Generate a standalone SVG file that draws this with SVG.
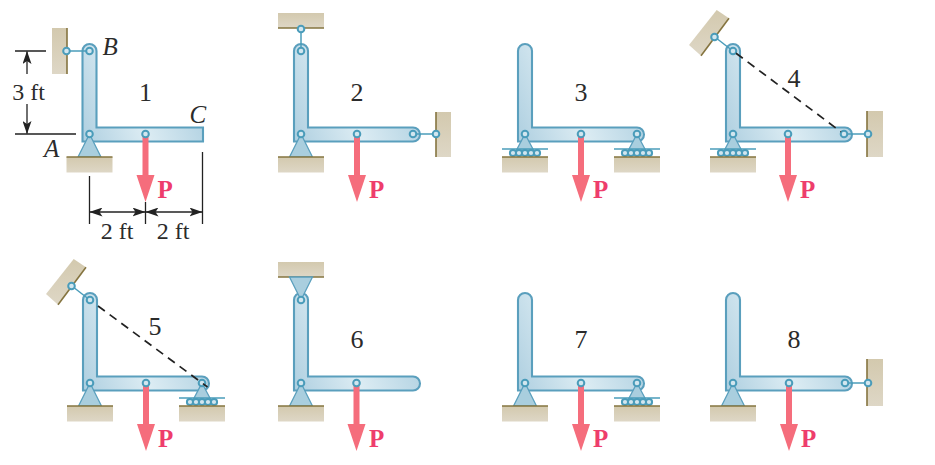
<svg xmlns="http://www.w3.org/2000/svg" width="935" height="465" viewBox="0 0 935 465">
<style>
text{font-family:"Liberation Serif","Times New Roman",serif;fill:#2b2b2b}
.n{font-size:26px;text-anchor:middle}
.d{font-size:24px;text-anchor:middle}
.i{font-size:25px;font-style:italic}
.p{font-size:25px;font-weight:bold;fill:#ee3d6c}
.bar{fill:url(#bg);stroke:#5a9fbd;stroke-width:2.1}
.tri{fill:#a9cede;stroke:#5a9fbd;stroke-width:1.3}
.pin{fill:#d2e6ef;stroke:#4a9cba;stroke-width:2}
.lnk{fill:none;stroke:#4a9cba;stroke-width:1.5}
.wall{fill:url(#wg)}
.edge{fill:none;stroke:#85743f;stroke-width:1.6}
.dash{fill:none;stroke:#222;stroke-width:1.7;stroke-dasharray:8.500 6}
.dim{fill:none;stroke:#222;stroke-width:1.3}
.dima{fill:none;stroke:#222;stroke-width:1.3;marker-start:url(#ah);marker-end:url(#ah)}
.dim1{fill:none;stroke:#222;stroke-width:1.3;marker-end:url(#ah)}
</style>
<defs>
<linearGradient id="bg" x1="0" y1="1" x2="1" y2="0.7"><stop offset="0" stop-color="#aecfe0"/><stop offset="0.5" stop-color="#dcecf3"/><stop offset="1" stop-color="#b2d2e2"/></linearGradient>
<linearGradient id="wg" x1="0" y1="0" x2="0" y2="1"><stop offset="0" stop-color="#d3c9ae"/><stop offset="1" stop-color="#ded7c6"/></linearGradient>
<marker id="ah" viewBox="0 0 13 9" refX="12.5" refY="4.5" markerWidth="13" markerHeight="9" markerUnits="userSpaceOnUse" orient="auto-start-reverse"><path d="M0,0 L13,4.5 L0,9 L3,4.5 Z" fill="#222"/></marker>
<path id="barSq" class="bar" d="M-7,7.5 V-83 A7,7 0 0 1 7,-83 V-6.5 H113.5 V7.5 Z"/>
<path id="barRd" class="bar" d="M-7,7.5 V-83 A7,7 0 0 1 7,-83 V-6.5 H112 A7,7 0 0 1 112,7.5 Z"/>
<circle id="pin" class="pin" r="3.3"/>
<g id="load"><path d="M-3,0 H3 V41 H9 L0,68 L-9,41 H-3 Z" fill="#f56d7c"/><use href="#pin"/></g>
<g id="ground"><rect class="wall" x="-23" y="0" width="46" height="15.5"/><path class="edge" d="M-23,0 H23"/></g>
<g id="fixed"><path class="tri" d="M0,0 L11.5,23 H-11.5 Z"/><use href="#ground" y="23"/><use href="#pin"/></g>
<g id="roller"><path class="tri" d="M0,0 L9,17 H-9 Z"/>
<g class="pin"><circle cx="-12" cy="19" r="3.1"/><circle cx="-6" cy="19" r="3.1"/><circle cx="0" cy="19" r="3.1"/><circle cx="6" cy="19" r="3.1"/><circle cx="12" cy="19" r="3.1"/></g>
<path class="lnk" d="M-23,15 H23"/><use href="#ground" y="23"/><use href="#pin"/></g>
<g id="tilt"><path class="wall" d="M-16.300,-35 L-4,-26.700 L-32,10.700 L-44,0 Z"/><path class="edge" d="M-4,-26.700 L-32,10.700"/></g>
</defs>
<rect width="935" height="465" fill="#fff"/>

<g id="frame1" transform="translate(89.5,134)">
<rect class="wall" x="-37.5" y="-106" width="15" height="46"/><path class="edge" d="M-22.500,-106 V-60"/>
<use href="#barSq"/><use href="#fixed"/><use href="#pin" y="-83"/><use href="#pin" x="-23" y="-83"/><use href="#load" x="56"/>
<text class="n" x="56" y="-33">1</text><text class="p" x="68" y="63.500">P</text>
<text class="i" x="13" y="-79">B</text><text class="i" x="-45.500" y="23">A</text><text class="i" x="100" y="-11">C</text>
</g>
<g id="frame2" transform="translate(301,134)">
<rect class="wall" x="-23" y="-121" width="46" height="15"/><path class="edge" d="M-23,-106 H23"/>
<rect class="wall" x="135" y="-22" width="15" height="45"/><path class="edge" d="M135,-22 V23"/>
<use href="#barRd"/><use href="#fixed"/><use href="#pin" y="-83"/><use href="#pin" y="-105"/><use href="#pin" x="112"/><use href="#pin" x="135"/><use href="#load" x="56"/>
<text class="n" x="56" y="-33">2</text><text class="p" x="68" y="63.500">P</text>
</g>
<g id="frame3" transform="translate(525,134)">
<use href="#barRd"/><use href="#roller"/><use href="#roller" x="112"/><use href="#load" x="56"/>
<text class="n" x="56" y="-33">3</text><text class="p" x="68" y="63.500">P</text>
</g>
<g id="frame4" transform="translate(733,134)">
<use href="#tilt" y="-89"/>
<rect class="wall" x="134" y="-23" width="16" height="46"/><path class="edge" d="M134,-23 V23"/>
<use href="#barRd"/><use href="#roller"/><use href="#pin" y="-83"/><use href="#pin" x="-18.500" y="-97"/><use href="#pin" x="111"/><use href="#pin" x="135"/><use href="#load" x="55"/>
<text class="n" x="61" y="-47">4</text><text class="p" x="67" y="63.500">P</text>
</g>
<g id="frame5" transform="translate(90,383)">
<use href="#tilt" y="-89"/>
<use href="#barRd"/><use href="#fixed"/><use href="#roller" x="112"/><use href="#pin" y="-83"/><use href="#pin" x="-18.500" y="-97"/><use href="#load" x="56"/>
<text class="n" x="65" y="-48">5</text><text class="p" x="68" y="63.500">P</text>
</g>
<g id="frame6" transform="translate(301,383)">
<rect class="wall" x="-23" y="-121" width="46" height="15"/><path class="edge" d="M-23,-106 H23"/>
<use href="#barRd"/><use href="#fixed"/><path class="tri" d="M0,-83 L11.5,-106 H-11.5 Z"/><use href="#pin" y="-83"/><use href="#load" x="55.500"/>
<text class="n" x="56" y="-35">6</text><text class="p" x="68" y="63.500">P</text>
</g>
<g id="frame7" transform="translate(525,383)">
<use href="#barRd"/><use href="#fixed"/><use href="#roller" x="112"/><use href="#load" x="56"/>
<text class="n" x="56" y="-35">7</text><text class="p" x="68" y="63.500">P</text>
</g>
<g id="frame8" transform="translate(733,383)">
<rect class="wall" x="134" y="-24" width="16" height="47"/><path class="edge" d="M134,-24 V23"/>
<use href="#barRd"/><use href="#fixed"/><use href="#pin" x="112"/><use href="#pin" x="135"/><use href="#load" x="56"/>
<text class="n" x="61" y="-35">8</text><text class="p" x="68" y="63.500">P</text>
</g>

<g id="connectors">
<path class="lnk" d="M69.800,51 H86.200"/>
<path class="lnk" d="M301,32.300 V47.700"/>
<path class="lnk" d="M416.500,134 H432.700"/>
<path class="lnk" d="M717.400,39 L730.300,49"/>
<path class="lnk" d="M847.500,134 H864.700"/>
<path class="dash" d="M736,53.200 L841,131.800"/>
<path class="lnk" d="M74.400,288 L87.300,298"/>
<path class="dash" d="M98,306 L207.500,387"/>
<path class="lnk" d="M848.500,383 H864.700"/>
</g>

<g id="dimensions">
<path class="dim" d="M15,51 H46 M15,134 H76 M89.500,176 V224 M145.500,202 V224 M202.500,152 V224"/>
<path class="dim1" d="M27,74 V51.500"/>
<path class="dim1" d="M27,104 V133.500"/>
<path class="dima" d="M90,212 H145"/>
<path class="dima" d="M146,212 H202"/>
<text class="d" x="28.500" y="100">3 ft</text>
<text class="d" x="117" y="239">2 ft</text>
<text class="d" x="173" y="239">2 ft</text>
</g>
</svg>
